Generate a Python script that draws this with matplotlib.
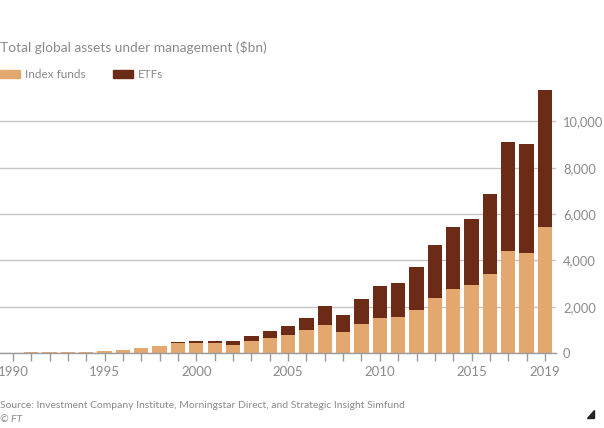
import matplotlib
matplotlib.use("Agg")
import matplotlib.pyplot as plt
from matplotlib.patches import Rectangle, Polygon

years = list(range(1990, 2020))
index_funds = [15, 30, 45, 55, 60, 85, 130, 200, 315, 440, 430, 415, 370, 530, 660, 800,
               1006, 1221, 905, 1250, 1494, 1552, 1868, 2385, 2759, 2931, 3420, 4397, 4339, 5445]
totals = [15, 30, 45, 55, 60, 85, 130, 200, 315, 470, 515, 530, 530, 730, 945, 1170,
          1523, 2012, 1624, 2357, 2888, 3017, 3736, 4670, 5431, 5805, 6853, 9095, 9023, 11351]
etfs = [t - i for t, i in zip(totals, index_funds)]
ytick_vals = [0, 2000, 4000, 6000, 8000, 10000]
ytick_labels = ["0", "2,000", "4,000", "6,000", "8,000", "10,000"]
xtick_labels = ["1990", "1995", "2000", "2005", "2010", "2015", "2019"]

C_INDEX = "#e2a870"
C_ETF = "#6b2b17"
GRID = "#c4c4c4"
TXT = "#8a8a8a"
FONT = ["Lato", "DejaVu Sans"]
plt.rcParams['font.family'] = FONT

fig = plt.figure(figsize=(6.04, 4.28), dpi=100)
ax = fig.add_axes([0.0, 0.175, 556 / 604, 0.617])

ax.bar(years, index_funds, width=0.78, color=C_INDEX, zorder=3)
ax.bar(years, etfs, bottom=index_funds, width=0.78, color=C_ETF, zorder=3)

ax.set_xlim(1989.3, 2019.6)
ax.set_ylim(0, 11400)
ax.set_yticks(ytick_vals)
ax.set_yticklabels(ytick_labels)
ax.yaxis.tick_right()
ax.tick_params(axis='y', length=0, pad=5, labelsize=9.3, labelcolor=TXT)
ax.grid(axis='y', color=GRID, linewidth=1.0, zorder=0)
ax.set_axisbelow(True)

ax.set_xticks(years)
ax.set_xticklabels([str(y) if str(y) in xtick_labels else "" for y in years])
ax.tick_params(axis='x', length=6, width=1, color="#9a9a9a", labelsize=9.5,
               labelcolor=TXT, pad=3)

for s in ["top", "right", "left"]:
    ax.spines[s].set_visible(False)
ax.spines["bottom"].set_color("#9a9a9a")
ax.spines["bottom"].set_linewidth(1)
ax.spines["bottom"].set_zorder(4)

fig.text(0.0, 1 - 47 / 428, "Total global assets under management (\\$bn)",
         fontsize=9.9, color=TXT, va="center", ha="left")

# legend
fig.patches.append(Rectangle((0 / 604, 1 - 78 / 428), 20 / 604, 8 / 428,
                             transform=fig.transFigure, color=C_INDEX, figure=fig))
fig.text(25 / 604, 1 - 74 / 428, "Index funds", fontsize=8.5, color=TXT, va="center")
fig.patches.append(Rectangle((113 / 604, 1 - 78 / 428), 20 / 604, 8 / 428,
                             transform=fig.transFigure, color=C_ETF, figure=fig))
fig.text(138 / 604, 1 - 74 / 428, "ETFs", fontsize=8.5, color=TXT, va="center")

fig.text(0.0, 1 - 406 / 428,
         "Source: Investment Company Institute, Morningstar Direct, and Strategic Insight Simfund",
         fontsize=7.5, color=TXT, va="center")
fig.text(0.0, 1 - 420 / 428, "\u00a9 FT", fontsize=7.5, color=TXT, va="center", style="italic")

fig.patches.append(Polygon([(587 / 604, 1 - 418 / 428), (594 / 604, 1 - 418 / 428),
                            (594 / 604, 1 - 410 / 428)], closed=True,
                           transform=fig.transFigure, color="#222222", figure=fig))

fig.savefig("out.png", dpi=100, facecolor="white")
